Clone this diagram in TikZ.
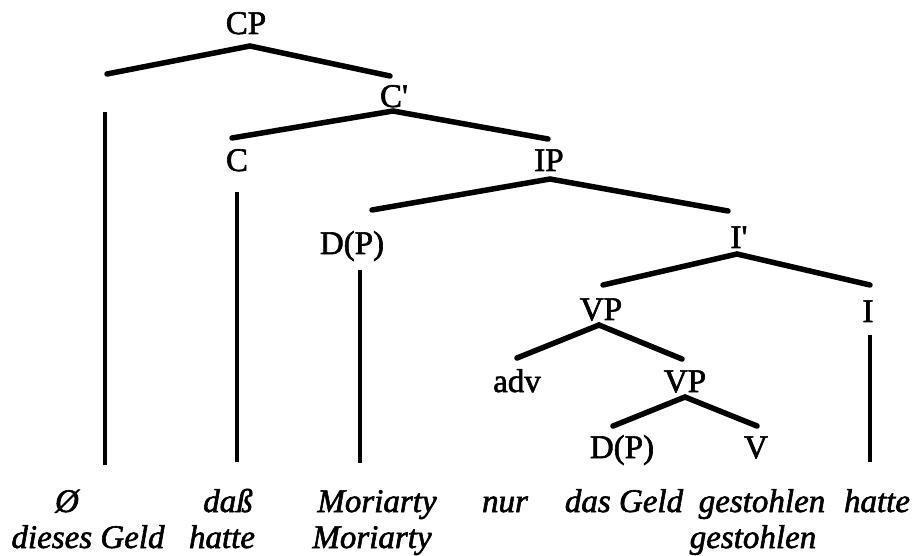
\documentclass[tikz,border=0pt]{standalone}
\usepackage{fontspec}
\setmainfont{Liberation Serif}[Ligatures=TeXOff]
\newfontfamily\heavy{Liberation Serif}[Ligatures=TeXOff, FakeBold=1.8]
\begin{document}
\begin{tikzpicture}[x=1pt,y=-1pt,
  lab/.style={font=\heavy\fontsize{33}{33}\selectfont, inner sep=0pt, anchor=base},
  word/.style={font=\heavy\fontsize{33}{33}\selectfont\itshape, inner sep=0pt, anchor=base},
  branch/.style={line width=5.5pt, line cap=round},
  stem/.style={line width=4pt}]
\useasboundingbox (0,0) rectangle (914,556);
% labels
\node[lab] (cp)  at (246,34)  {CP};
\node[lab] (cb)  at (394,107) {C'};
\node[lab] (c)   at (237,171) {C};
\node[lab] (ip)  at (549,171) {IP};
\node[lab] (dp1) at (352,254) {D(P)};
\node[lab] (ib)  at (739,248) {I'};
\node[lab] (vp1) at (601,320) {VP};
\node[lab] (i)   at (868,322) {I};
\node[lab] (adv) at (517,392) {adv};
\node[lab] (vp2) at (685,392) {VP};
\node[lab] (dp2) at (622,458) {D(P)};
\node[lab] (v)   at (756,458) {V};
% branch points
\coordinate (cpA) at (250,46);  \coordinate (cpL) at (107,74);  \coordinate (cpR) at (390,76);
\coordinate (cbA) at (393,111); \coordinate (cbL) at (232,138); \coordinate (cbR) at (548,139);
\coordinate (ipA) at (550,179); \coordinate (ipL) at (372,210); \coordinate (ipR) at (728,211);
\coordinate (ibA) at (737,254); \coordinate (ibL) at (603,285); \coordinate (ibR) at (870,285);
\coordinate (vaA) at (599,325); \coordinate (vaL) at (517,358); \coordinate (vaR) at (682,359);
\coordinate (vbA) at (685,397); \coordinate (vbL) at (613,426); \coordinate (vbR) at (757,426);
\draw[branch] (cpL) -- (cpA) -- (cpR);
\draw[branch] (cbL) -- (cbA) -- (cbR);
\draw[branch] (ipL) -- (ipA) -- (ipR);
\draw[branch] (ibL) -- (ibA) -- (ibR);
\draw[branch] (vaL) -- (vaA) -- (vaR);
\draw[branch] (vbL) -- (vbA) -- (vbR);
% stems
\coordinate (s1T) at (105,112); \coordinate (s1B) at (105,465);
\coordinate (s2T) at (237,192); \coordinate (s2B) at (237,462);
\coordinate (s3T) at (360,270); \coordinate (s3B) at (360,463);
\coordinate (s4T) at (870,335); \coordinate (s4B) at (870,462);
\draw[stem] (s1T) -- (s1B);
\draw[stem] (s2T) -- (s2B);
\draw[stem] (s3T) -- (s3B);
\draw[stem] (s4T) -- (s4B);
% words
\node[word] (w1a) at (67,512)  {Ø};
\node[word] (w1b) at (88,548)  {dieses Geld};
\node[word] (w2a) at (228,512) {daß};
\node[word] (w2b) at (222,548) {hatte};
\node[word] (w3a) at (377,512) {Moriarty};
\node[word] (w3b) at (372,548) {Moriarty};
\node[word] (w4)  at (505,512) {nur};
\node[word] (w5)  at (624,512) {das Geld};
\node[word] (w6a) at (762,512) {gestohlen};
\node[word] (w6b) at (753,548) {gestohlen};
\node[word] (w7)  at (877,512) {hatte};
\end{tikzpicture}
\end{document}
